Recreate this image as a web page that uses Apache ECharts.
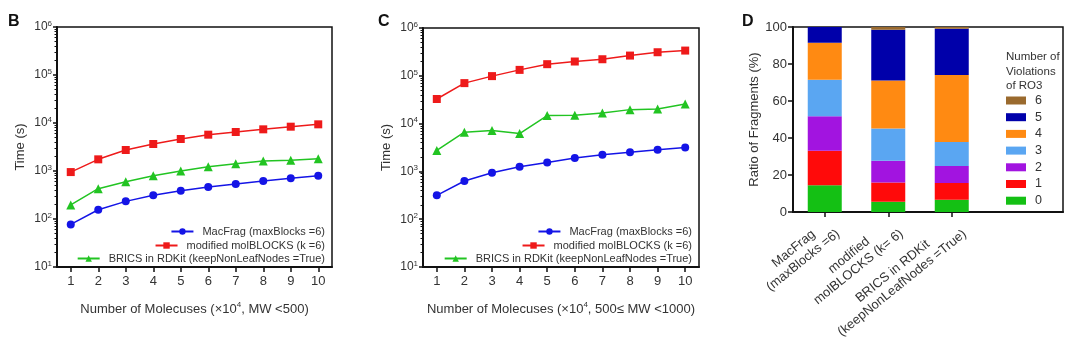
<!DOCTYPE html>
<html>
<head>
<meta charset="utf-8">
<script src="https://cdn.jsdelivr.net/npm/echarts@6/dist/echarts.min.js"></script>
<style>
  html, body { margin: 0; padding: 0; background: #fff; }
  #chart { width: 1080px; height: 338px; }
</style>
</head>
<body>
<div id="chart"></div>
<script>
// ---- data ----
const moleculeCounts = ['1', '2', '3', '4', '5', '6', '7', '8', '9', '10'];
const seriesNames = ['MacFrag (maxBlocks =6)', 'modified molBLOCKS (k =6)', 'BRICS in RDKit (keepNonLeafNodes =True)'];

// Panel B: MW < 500, run time in seconds
const macFragB   = [77, 156, 233, 311, 389, 464, 536, 619, 703, 800];
const molBlocksB = [950, 1750, 2740, 3650, 4640, 5710, 6490, 7380, 8380, 9380];
const bricsB     = [196, 428, 600, 800, 1000, 1230, 1420, 1620, 1670, 1800];

// Panel C: 500 <= MW < 1000, run time in seconds
const macFragC   = [316, 629, 938, 1250, 1540, 1900, 2220, 2530, 2830, 3160];
const molBlocksC = [32700, 70300, 98500, 133000, 175000, 199000, 222000, 265000, 311000, 337000];
const bricsC     = [2740, 6600, 7150, 6190, 14700, 14900, 16700, 19600, 20200, 25700];

// Panel D: share of fragments (%) by number of RO3 violations
const methodLines = [
  ['MacFrag', '(maxBlocks =6)'],
  ['modified', 'molBLOCKS (k= 6)'],
  ['BRICS in RDKit', '(keepNonLeafNodes =True)']
];
const violationLevels = ['0', '1', '2', '3', '4', '5', '6'];
const violations0 = [14.4, 5.6, 6.6];
const violations1 = [18.7, 10.4, 9.1];
const violations2 = [18.6, 11.7, 9.2];
const violations3 = [19.8, 17.5, 12.9];
const violations4 = [20.0, 25.9, 36.3];
const violations5 = [8.5, 27.4, 25.0];
const violations6 = [0, 1.5, 0.9];
const violationTicks = ['0', '20', '40', '60', '80', '100'];

// ---- styles ----
const FONT = 'Arial, "Liberation Sans", sans-serif';
const TXT = '#333';
const lineColors = ['#1414e6', '#ee1a1a', '#22c422'];
const lineSymbols = ['circle', 'rect', 'triangle'];
const violationColors = ['#14c014', '#ff0a0a', '#a214e0', '#5aa6f2', '#ff8a12', '#0000aa', '#9a6a2e'];

const chart = echarts.init(document.getElementById('chart'), null, { renderer: 'canvas' });

function supLabel(v) {
  const e = Math.round(Math.log10(v));
  return '{b|10}{s|' + e + '}';
}
const supRich = {
  b: { fontSize: 12, fontFamily: FONT, color: TXT },
  s: { fontSize: 8, fontFamily: FONT, color: TXT, padding: [0, 0, 7, 0] }
};

function logYAxis(gridIndex) {
  return {
    type: 'log', gridIndex, logBase: 10, min: 10, max: 1e6,
    name: 'Time (s)', nameLocation: 'middle', nameGap: 30,
    nameTextStyle: { fontSize: 13, fontFamily: FONT, color: TXT },
    axisLine: { show: true, lineStyle: { color: '#111', width: 2 } },
    axisTick: { show: true, inside: false, length: 4, lineStyle: { color: '#111', width: 1.5 } },
    minorTick: { show: true, splitNumber: 9, length: 2.5, lineStyle: { color: '#111', width: 1 } },
    splitLine: { show: false },
    axisLabel: { formatter: supLabel, rich: supRich, margin: 5 }
  };
}

function countXAxis(gridIndex, nameRich) {
  return {
    type: 'category', gridIndex, data: moleculeCounts, boundaryGap: true,
    name: nameRich, nameLocation: 'middle', nameGap: 34,
    nameTextStyle: {
      rich: {
        t: { fontSize: 13, fontFamily: FONT, color: TXT },
        s: { fontSize: 8, fontFamily: FONT, color: TXT, padding: [0, 0, 8, 0] }
      }
    },
    axisLine: { show: true, lineStyle: { color: '#111', width: 2 } },
    axisTick: { show: true, alignWithLabel: true, length: 5, lineStyle: { color: '#111', width: 1.5 } },
    axisLabel: { fontSize: 13, fontFamily: FONT, color: TXT, margin: 8 },
    splitLine: { show: false }
  };
}

function lineSeries(i, gi, data) {
  return {
    type: 'line', name: seriesNames[i], xAxisIndex: gi, yAxisIndex: gi, data,
    symbol: lineSymbols[i], symbolSize: i === 2 ? 9 : 8,
    lineStyle: { color: lineColors[i], width: 1.5 },
    itemStyle: { color: lineColors[i] },
    z: 3 + (2 - i)
  };
}

function lineLegend(i, rightPx, topPx) {
  return {
    data: [seriesNames[i]], right: rightPx, top: topPx, padding: 0,
    itemWidth: 22, itemHeight: 8, itemGap: 0,
    textStyle: { fontSize: 11, fontFamily: FONT, color: TXT, padding: [0, 0, 0, 4] },
    selectedMode: false
  };
}

// measure text so the two rotated lines of each method label are centred on each other
const LABEL_FS = 13;
const measureCtx = document.createElement('canvas').getContext('2d');
measureCtx.font = LABEL_FS + 'px ' + FONT;
const labelWidths = methodLines.map(ls => Math.ceil(Math.max(...ls.map(s => measureCtx.measureText(s).width))) + 2);
const methodRich = {};
labelWidths.forEach((w, i) => {
  methodRich['m' + i] = { fontSize: LABEL_FS, fontFamily: FONT, color: TXT, width: w, align: 'center', lineHeight: 15 };
});
const methodKeys = methodLines.map(ls => ls.join(' '));

const violationSeries = [violations0, violations1, violations2, violations3, violations4, violations5, violations6];

const gridBase = { outerBoundsMode: 'none', containLabel: false };

const option = {
  animation: false,
  backgroundColor: '#fff',
  title: [
    { text: 'B', left: 3, top: 9, textStyle: { fontSize: 16, fontWeight: 'bold', fontFamily: FONT, color: '#111' } },
    { text: 'C', left: 373, top: 9, textStyle: { fontSize: 16, fontWeight: 'bold', fontFamily: FONT, color: '#111' } },
    { text: 'D', left: 737, top: 9, textStyle: { fontSize: 16, fontWeight: 'bold', fontFamily: FONT, color: '#111' } },
    { text: 'Number of\nViolations\nof RO3', left: 1001, top: 45,
      textStyle: { fontSize: 11.5, fontWeight: 'normal', lineHeight: 14.5, fontFamily: FONT, color: TXT } }
  ],
  grid: [
    { ...gridBase, left: 57, top: 27, width: 275, height: 240, show: true, borderColor: '#111', borderWidth: 1.5, backgroundColor: 'transparent' },
    { ...gridBase, left: 423, top: 28, width: 276, height: 239, show: true, borderColor: '#111', borderWidth: 1.5, backgroundColor: 'transparent' },
    // bar area of panel D (three method bands)
    { ...gridBase, left: 793, top: 27, width: 190.5, height: 185, show: false },
    // full frame of panel D, legend sits inside it
    { ...gridBase, left: 793, top: 27, width: 270, height: 185, show: true, borderColor: '#111', borderWidth: 1.5, backgroundColor: 'transparent' }
  ],
  legend: [
    lineLegend(0, 1080 - 325, 226),
    lineLegend(1, 1080 - 325, 240),
    lineLegend(2, 1080 - 325, 253),
    lineLegend(0, 1080 - 692, 226),
    lineLegend(1, 1080 - 692, 240),
    lineLegend(2, 1080 - 692, 253),
    {
      data: violationLevels.slice().reverse(), orient: 'vertical', left: 1006, top: 94, padding: 0,
      itemWidth: 20, itemHeight: 8, itemGap: 3.7, icon: 'rect', selectedMode: false,
      textStyle: { fontSize: 12.5, fontFamily: FONT, color: TXT, lineHeight: 13, padding: [0, 0, 0, 4] }
    }
  ],
  xAxis: [
    countXAxis(0, '{t|Number of Molecuses (×10}{s|4}{t|, MW <500)}'),
    countXAxis(1, '{t|Number of Molecuses (×10}{s|4}{t|, 500≤ MW <1000)}'),
    {
      type: 'category', gridIndex: 2, data: methodKeys, boundaryGap: true,
      axisLine: { show: true, lineStyle: { color: '#111', width: 2 } },
      axisTick: { show: true, alignWithLabel: true, length: 5, lineStyle: { color: '#111', width: 1.5 } },
      axisLabel: {
        interval: 0, rotate: 39, margin: 2, align: 'right', verticalAlign: 'top', rich: methodRich,
        hideOverlap: false,
        formatter: (v, i) => methodLines[i].map(s => '{m' + i + '|' + s + '}').join('\n')
      },
      splitLine: { show: false }
    },
    {
      type: 'value', gridIndex: 3, min: 0, max: 1, show: true,
      axisLine: { show: true, onZero: false, lineStyle: { color: '#111', width: 2 } },
      axisTick: { show: false }, axisLabel: { show: false }, splitLine: { show: false }
    }
  ],
  yAxis: [
    logYAxis(0),
    logYAxis(1),
    {
      type: 'value', gridIndex: 2, min: 0, max: 100, interval: 20,
      name: 'Ratio of Fragments (%)', nameLocation: 'middle', nameGap: 32,
      nameTextStyle: { fontSize: 13, fontFamily: FONT, color: TXT },
      axisLine: { show: true, lineStyle: { color: '#111', width: 2 } },
      axisTick: { show: true, length: 5, lineStyle: { color: '#111', width: 1.5 } },
      axisLabel: { fontSize: 13, fontFamily: FONT, color: TXT, margin: 6,
        formatter: v => violationTicks[Math.round(v / 20)] },
      splitLine: { show: false }
    },
    {
      type: 'value', gridIndex: 3, min: 0, max: 1, show: false
    }
  ],
  series: [
    lineSeries(0, 0, macFragB),
    lineSeries(1, 0, molBlocksB),
    lineSeries(2, 0, bricsB),
    lineSeries(0, 1, macFragC),
    lineSeries(1, 1, molBlocksC),
    lineSeries(2, 1, bricsC),
    ...violationSeries.map((vals, k) => ({
      type: 'bar', name: violationLevels[k], xAxisIndex: 2, yAxisIndex: 2, stack: 'ro3',
      barWidth: 34,
      itemStyle: { color: violationColors[k] },
      data: vals
    }))
  ]
};

chart.setOption(option);
</script>
</body>
</html>
